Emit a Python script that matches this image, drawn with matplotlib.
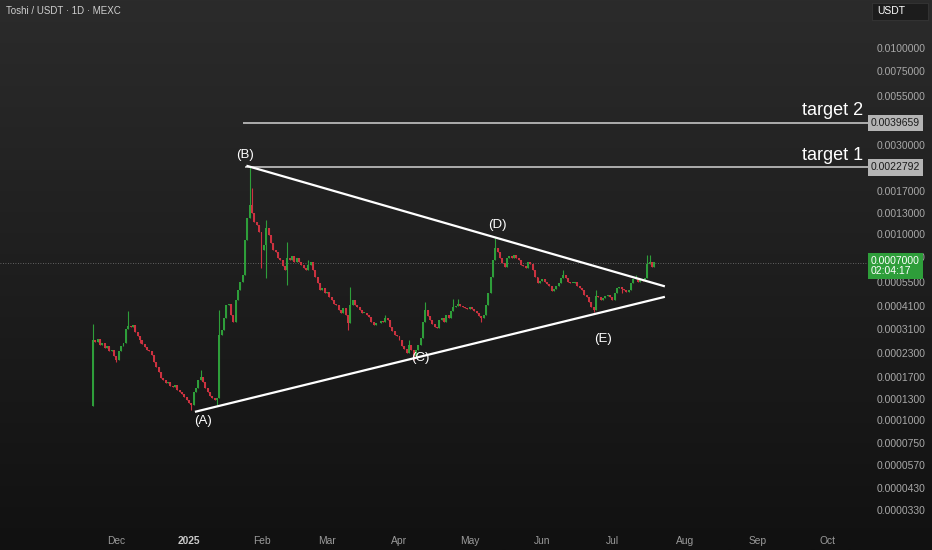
import numpy as np
import pandas as pd
import matplotlib
matplotlib.use('Agg')
import matplotlib.pyplot as plt
import matplotlib.dates as mdates
import matplotlib.transforms as mtransforms
from matplotlib.patches import Rectangle
from matplotlib.ticker import FixedLocator, NullLocator

plt.rcParams['font.family'] = ['Liberation Sans', 'DejaVu Sans']

# daily closes, in units of 1e-6 USDT, starting 2024-11-21
start_date = '2024-11-21'
first_open = 119
closes = [
    269, 263, 273, 253, 258, 245, 250, 234, 238, 222,
    210, 234, 250, 260, 310, 319, 316, 324, 298, 282,
    269, 256, 248, 238, 234, 224, 205, 193, 181, 168,
    164, 158, 160, 152, 150, 154, 145, 141, 138, 133,
    128, 123, 120, 141, 148, 164, 171, 160, 148, 141,
    134, 131, 128, 131, 286, 305, 353, 415, 423, 367,
    338, 442, 500, 552, 602, 929, 1220, 1432, 1300, 1160,
    1118, 1025, 821, 873, 1080, 988, 900, 821, 800, 745,
    725, 673, 641, 745, 725, 762, 707, 745, 707, 681,
    655, 641, 681, 707, 641, 588, 545, 500, 510, 482,
    487, 458, 442, 423, 415, 390, 378, 400, 367, 331,
    415, 442, 415, 403, 390, 378, 378, 367, 357, 338,
    324, 331, 331, 341, 338, 353, 345, 316, 301, 286,
    282, 269, 250, 241, 230, 253, 238, 221, 238, 253,
    276, 338, 390, 363, 345, 328, 316, 312, 345, 353,
    338, 367, 353, 385, 403, 409, 420, 409, 403, 398,
    394, 403, 394, 385, 376, 363, 353, 367, 415, 482,
    588, 725, 842, 800, 745, 699, 668, 745, 762, 745,
    771, 745, 725, 681, 673, 655, 707, 690, 641, 588,
    545, 560, 574, 552, 538, 524, 494, 506, 524, 545,
    580, 602, 580, 552, 545, 545, 552, 524, 510, 500,
    470, 456, 432, 403, 390, 464, 458, 442, 452, 464,
    470, 458, 442, 482, 510, 516, 506, 500, 488, 500,
    545, 574, 580, 552, 566, 560, 580, 690, 707, 668,
    707,
]

# wicks that stand out from the bodies (day index -> price)
high_wicks = {0: 330, 15: 384, 46: 186, 54: 390, 67: 2290, 68: 1770, 72: 760,
              74: 1189, 83: 910, 92: 725, 110: 520, 125: 367, 135: 269,
              142: 430, 154: 445, 156: 450, 172: 952, 201: 640, 215: 500,
              232: 602, 237: 771, 238: 771}
low_wicks = {10: 205, 20: 260, 42: 113, 53: 120, 62: 480, 72: 660, 74: 580,
             83: 532, 109: 305, 137: 210, 166: 338, 214: 380, 226: 480}

months = ['Dec', '2025', 'Feb', 'Mar', 'Apr', 'May', 'Jun', 'Jul', 'Aug', 'Sep', 'Oct']
month_starts = ['2024-12-01', '2025-01-01', '2025-02-01', '2025-03-01', '2025-04-01',
                '2025-05-01', '2025-06-01', '2025-07-01', '2025-08-01', '2025-09-01',
                '2025-10-01']

price_ticks = [0.01, 0.0075, 0.0055, 0.003, 0.0017, 0.0013, 0.001, 0.00075,
               0.00055, 0.00041, 0.00031, 0.00023, 0.00017, 0.00013, 0.0001,
               0.000075, 0.000057, 0.000043, 0.000033]

target_1 = 0.0022792
target_2 = 0.0039659
last_price = 0.0007
countdown = '02:04:17'

# wave points (A)..(E): date, price
wave_labels = ['(A)', '(B)', '(C)', '(D)', '(E)']
wave_dates = ['2025-01-07', '2025-01-25', '2025-04-10', '2025-05-13', '2025-06-27']
wave_prices = [0.0000988, 0.00265, 0.000215, 0.00112, 0.000272]

# triangle lines: (date, price) pairs
upper_line = [('2025-01-26', 0.00232), ('2025-07-23', 0.000525)]
lower_line = [('2025-01-04', 0.000111), ('2025-07-23', 0.000458)]

GREEN = '#2e9e3a'
RED = '#cc3240'

dates = pd.date_range(start_date, periods=len(closes), freq='D')
x = mdates.date2num(dates)
c = np.array(closes, dtype=float) * 1e-6
o = np.concatenate([[first_open * 1e-6], c[:-1]])
hi = np.maximum(o, c)
lo = np.minimum(o, c)
for k, v in high_wicks.items():
    hi[k] = max(hi[k], v * 1e-6)
for k, v in low_wicks.items():
    lo[k] = min(lo[k], v * 1e-6)

fig = plt.figure(figsize=(9.32, 5.5), dpi=100)

bg = fig.add_axes([0, 0, 1, 1], zorder=-1)
grad = np.linspace(0, 1, 256).reshape(-1, 1)
bg.imshow(grad, aspect='auto', extent=[0, 1, 0, 1],
          cmap=matplotlib.colors.LinearSegmentedColormap.from_list('bg', ['#2b2b2b', '#111111']),
          origin='upper')
bg.axis('off')

ax = fig.add_axes([0, 0, 868 / 932, 1])
ax.set_facecolor('none')
ax.set_yscale('log')
x0 = mdates.date2num(pd.Timestamp(start_date))
ax.set_xlim(x0 - 39.8, x0 + 331.3)
ax.set_ylim(2.0e-5, 0.01812)
for s in ax.spines.values():
    s.set_visible(False)

up = c >= o
cols = np.where(up, GREEN, RED)
ax.vlines(x, lo, hi, colors=cols, linewidth=0.8, zorder=2)
body_h = np.maximum(np.abs(c - o), c * 0.008)
ax.bar(x, body_h, bottom=np.minimum(o, c), width=0.85, color=cols, linewidth=0, zorder=2)

# current price dotted line
ax.axhline(last_price, color='#7a7a7a', linewidth=0.6, linestyle=(0, (1, 2)), zorder=1)

# targets
t_start = mdates.date2num(pd.Timestamp('2025-01-25'))
ax.hlines([target_2, target_1], [t_start - 1, t_start], ax.get_xlim()[1],
          color='#b8b8b8', linewidth=1.3, zorder=3)
tx = mdates.date2num(pd.Timestamp('2025-10-03'))
ax.text(tx, target_2 * 1.05, 'target 2', color='white', fontsize=13, ha='center', va='bottom')
ax.text(tx, target_1 * 1.05, 'target 1', color='white', fontsize=13, ha='center', va='bottom')

# triangle
for line in (upper_line, lower_line):
    lx = [mdates.date2num(pd.Timestamp(d)) for d, _ in line]
    ly = [p for _, p in line]
    ax.plot(lx, ly, color='white', linewidth=1.6, zorder=4)

for lab, d, p in zip(wave_labels, wave_dates, wave_prices):
    ax.text(mdates.date2num(pd.Timestamp(d)), p, lab, color='white', fontsize=9.5,
            ha='center', va='center', zorder=5)

# month labels along the bottom
for m, d in zip(months, month_starts):
    ax.text(mdates.date2num(pd.Timestamp(d)), 0.016, m, transform=ax.get_xaxis_transform(),
            color='#c8c8c8' if m == '2025' else '#9a9a9a', fontsize=7.4,
            fontweight='bold' if m == '2025' else 'normal', ha='center', va='center')
ax.xaxis.set_major_locator(NullLocator())

# price axis on the right
ax.yaxis.tick_right()
ax.yaxis.set_major_locator(FixedLocator(price_ticks))
ax.yaxis.set_minor_locator(NullLocator())
ax.set_yticklabels([f'{t:.7f}' for t in price_ticks])
ax.tick_params(axis='y', length=0, pad=6.5, labelsize=7.5, labelcolor='#a8a8a8')

label_x = 1 + 3 / 868
for val, txt in [(target_2, f'{target_2:.7f}'), (target_1, f'{target_1:.7f}')]:
    ax.text(label_x, val, txt, transform=ax.get_yaxis_transform(), color='#1a1a1a',
            fontsize=7.5, ha='left', va='center',
            bbox=dict(boxstyle='square,pad=0.3', fc='#b4b4b4', ec='none'), zorder=6, clip_on=False)

green_tr = mtransforms.offset_copy(ax.get_yaxis_transform(), fig=fig, y=7, units='dots')
ax.text(label_x, last_price, f'{last_price:.7f}\n{countdown}', transform=green_tr, color='white',
        fontsize=7.5, ha='left', va='top', linespacing=1.05,
        bbox=dict(boxstyle='square,pad=0.3', fc=GREEN, ec='none'), zorder=6, clip_on=False)

fig.patches.append(Rectangle((872 / 932, 1 - 20 / 550), 56 / 932, 17 / 550,
                             transform=fig.transFigure, fc='#1c1c1c', ec='#3a3a3a', lw=0.5))
fig.text(877 / 932, 1 - 11.5 / 550, 'USDT', color='white', fontsize=7.5, ha='left', va='center')
fig.text(6 / 932, 1 - 11 / 550, 'Toshi / USDT · 1D · MEXC', color='#cfcfcf', fontsize=7,
         ha='left', va='center')

fig.savefig('out.png', dpi=100)
